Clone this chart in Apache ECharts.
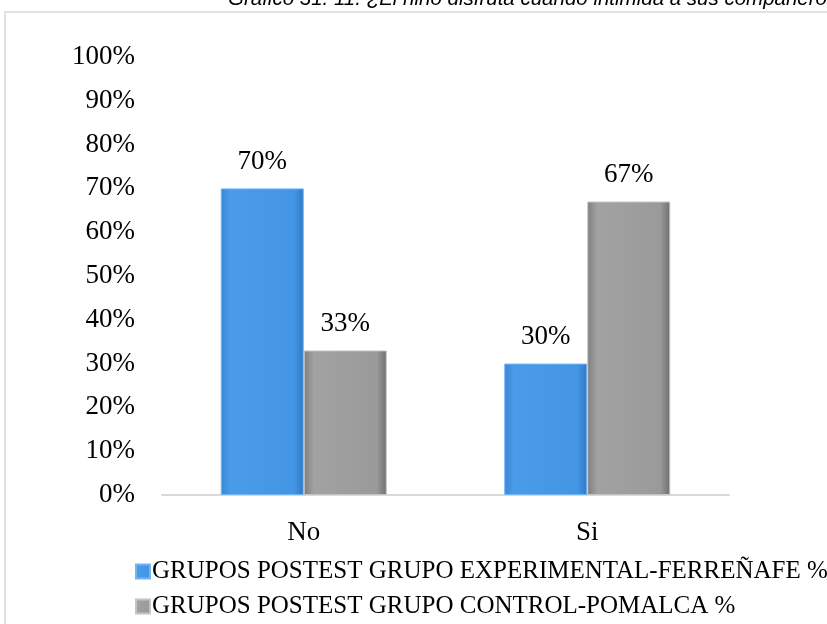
<!DOCTYPE html>
<html>
<head>
<meta charset="utf-8">
<script src="https://cdn.jsdelivr.net/npm/echarts@6/dist/echarts.min.js"></script>
<style>
  html, body { margin: 0; padding: 0; background: #ffffff; }
  #chart { width: 827px; height: 624px; }
</style>
</head>
<body>
<div id="chart"></div>
<script>
// Respuestas del ítem 11, postest
const categories = ['No', 'Si'];
const experimental = [70, 30];
const control = [33, 67];
const seriesNames = [
  'GRUPOS POSTEST GRUPO EXPERIMENTAL-FERREÑAFE %',
  'GRUPOS POSTEST GRUPO CONTROL-POMALCA %'
];
const titleText = 'Gráfico 31. 11. ¿El niño disfruta cuando intimida a sus compañeros?';

const serif = '"Liberation Serif", "DejaVu Serif", serif';
const textSize = 27;

const blueFill = new echarts.graphic.LinearGradient(0, 0, 1, 0, [
  { offset: 0, color: '#3a86d6' },
  { offset: 0.12, color: '#4a9ceb' },
  { offset: 0.88, color: '#4496e4' },
  { offset: 1, color: '#2f78c6' }
]);
const grayFill = new echarts.graphic.LinearGradient(0, 0, 1, 0, [
  { offset: 0, color: '#7d7d7d' },
  { offset: 0.12, color: '#a2a2a2' },
  { offset: 0.88, color: '#9a9a9a' },
  { offset: 1, color: '#6e6e6e' }
]);

const chart = echarts.init(document.getElementById('chart'));

const labelStyle = {
  show: true,
  position: 'top',
  distance: 13,
  formatter: p => p.value + '%',
  fontFamily: serif,
  fontSize: textSize,
  color: '#000'
};

chart.setOption({
  animation: false,
  backgroundColor: '#ffffff',
  graphic: [
    {
      type: 'rect',
      shape: { x: 5, y: 12, width: 900, height: 700 },
      style: { fill: 'none', stroke: '#d9d9d9', lineWidth: 1.5 },
      silent: true
    },
    {
      type: 'text',
      x: 228,
      y: -11,
      style: {
        text: titleText,
        font: 'italic 20.5px "Liberation Sans", Arial, sans-serif',
        fill: '#000'
      },
      silent: true
    }
  ],
  grid: { left: 162, right: 98, top: 57, bottom: 129, containLabel: false },
  legend: {
    orient: 'vertical',
    left: 130,
    top: 554,
    height: 120,
    itemWidth: 14,
    itemHeight: 14,
    itemGap: 10,
    icon: 'rect',
    textStyle: { fontFamily: serif, fontSize: 25, color: '#000', padding: [0, 0, 0, -3] },
    data: seriesNames
  },
  xAxis: {
    type: 'category',
    data: categories,
    axisLine: { show: true, lineStyle: { color: '#d9d9d9', width: 2 } },
    axisTick: { show: false },
    axisLabel: { fontFamily: serif, fontSize: textSize, color: '#000', margin: 24 }
  },
  yAxis: {
    type: 'value',
    min: 0,
    max: 100,
    interval: 10,
    axisLine: { show: false },
    axisTick: { show: false },
    splitLine: { show: false },
    axisLabel: {
      formatter: v => v + '%',
      fontFamily: serif,
      fontSize: textSize,
      color: '#000',
      margin: 27
    }
  },
  series: [
    {
      name: seriesNames[0],
      type: 'bar',
      data: experimental,
      barWidth: 83,
      barGap: '0%',
      itemStyle: { color: blueFill, borderColor: '#6fb6f2', borderWidth: 1 },
      label: labelStyle
    },
    {
      name: seriesNames[1],
      type: 'bar',
      data: control,
      barWidth: 83,
      barGap: '0%',
      itemStyle: { color: grayFill, borderColor: '#c4c4c4', borderWidth: 1 },
      label: labelStyle
    }
  ]
});
</script>
</body>
</html>
